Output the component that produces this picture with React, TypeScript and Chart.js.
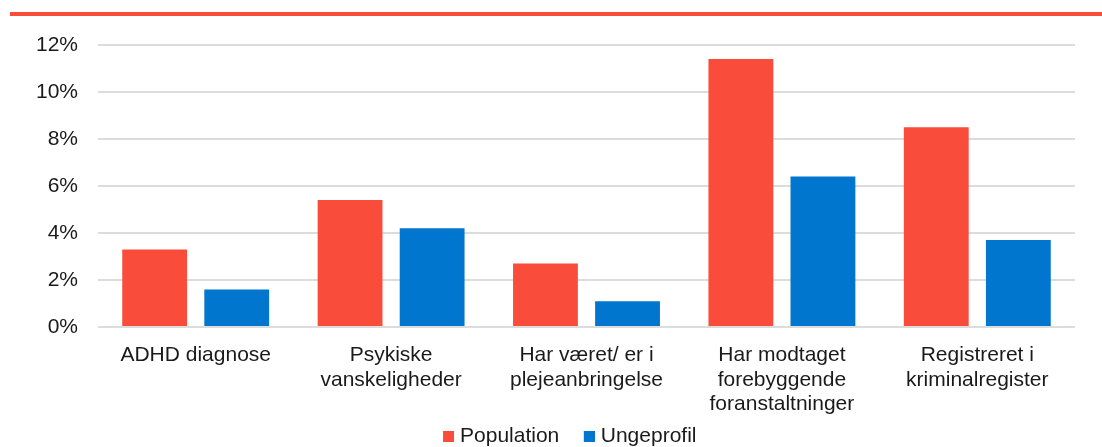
import React, { useEffect, useRef } from "react";
import { Chart, registerables } from "chart.js";

Chart.register(...registerables);

const categories: string[][] = [
  ["ADHD diagnose"],
  ["Psykiske", "vanskeligheder"],
  ["Har været/ er i", "plejeanbringelse"],
  ["Har modtaget", "forebyggende", "foranstaltninger"],
  ["Registreret i", "kriminalregister"],
];
const populationValues: number[] = [3.3, 5.4, 2.7, 11.4, 8.5];
const ungeprofilValues: number[] = [1.6, 4.2, 1.1, 6.4, 3.7];
const yTicks: number[] = [0, 2, 4, 6, 8, 10, 12];
const seriesNames: string[] = ["Population", "Ungeprofil"];

const RED = "#F94C3B";
const BLUE = "#0076CE";
const FONT = "'Liberation Sans', Arial, sans-serif";
const TEXT = "#1a1a1a";

// legend swatch: 11px square at the right end of a wider transparent image
function swatch(color: string): HTMLCanvasElement {
  const c = document.createElement("canvas");
  c.width = 36;
  c.height = 11;
  const g = c.getContext("2d")!;
  g.fillStyle = color;
  g.fillRect(25, 0, 11, 11);
  return c;
}

const topLine = {
  id: "topLine",
  beforeDraw(chart: any) {
    const ctx = chart.ctx;
    ctx.save();
    ctx.fillStyle = RED;
    ctx.fillRect(10, 12, chart.width - 10, 4);
    ctx.restore();
  },
};

export default function App() {
  const ref = useRef<HTMLCanvasElement>(null);
  useEffect(() => {
    document.body.style.margin = "0";
    const chart = new Chart(ref.current!, {
      type: "bar",
      data: {
        labels: categories,
        datasets: [
          {
            label: seriesNames[0],
            data: populationValues,
            backgroundColor: RED,
            categoryPercentage: 0.84,
            barPercentage: 0.79,
          },
          {
            label: seriesNames[1],
            data: ungeprofilValues,
            backgroundColor: BLUE,
            categoryPercentage: 0.84,
            barPercentage: 0.79,
          },
        ],
      },
      options: {
        responsive: false,
        animation: false,
        layout: { padding: { left: 34, right: 17, top: 45, bottom: -10 } },
        scales: {
          x: {
            grid: { display: false },
            border: { display: false },
            ticks: {
              autoSkip: false,
              maxRotation: 0,
              padding: 8,
              color: TEXT,
              font: { family: FONT, size: 21, lineHeight: 1.17 },
            },
            afterFit: (s: any) => {
              s.height = 95;
            },
          },
          y: {
            min: 0,
            max: 12,
            afterBuildTicks: (s: any) => {
              s.ticks = yTicks.map((v) => ({ value: v }));
            },
            grid: { color: "#dcdcdc", lineWidth: 2, drawTicks: false },
            border: { display: false },
            ticks: {
              padding: 20,
              color: TEXT,
              font: { family: FONT, size: 21 },
              callback: (v: any) => v + "%",
            },
            afterFit: (s: any) => {
              s.width = 64;
            },
          },
          spacer: {
            type: "linear",
            position: "right",
            grid: { display: false },
            border: { display: false },
            ticks: { display: false },
            afterFit: (s: any) => {
              s.width = 10;
            },
          },
        },
        plugins: {
          tooltip: { enabled: false },
          legend: {
            position: "bottom",
            labels: {
              color: TEXT,
              font: { family: FONT, size: 21 },
              padding: 4,
              usePointStyle: true,
              pointStyleWidth: 27,
              generateLabels: (c: any) => {
                const items = Chart.defaults.plugins.legend.labels.generateLabels(c);
                return items.map((it: any, i: number) => ({
                  ...it,
                  pointStyle: swatch(i === 0 ? RED : BLUE),
                  lineWidth: 0,
                }));
              },
            },
          },
        },
      },
      plugins: [topLine],
    });
    return () => chart.destroy();
  }, []);
  return <canvas ref={ref} width={1102} height={447} style={{ display: "block" }} />;
}
